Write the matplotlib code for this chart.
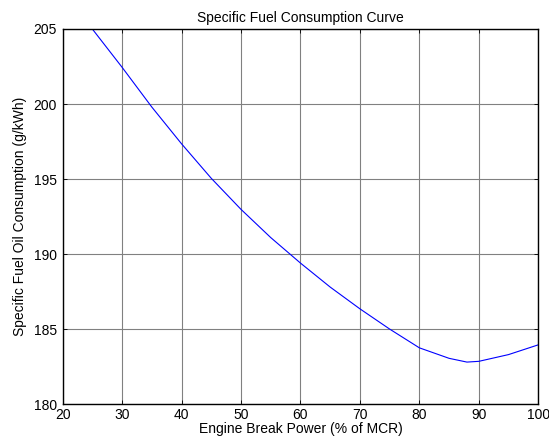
import matplotlib
matplotlib.use('Agg')
import matplotlib.pyplot as plt

# engine load (% of MCR) vs specific fuel oil consumption (g/kWh)
load_pct = [20, 25, 30, 35, 40, 45, 50, 55, 60, 65, 70, 75, 80, 85, 88, 90, 95, 100]
sfoc = [207.7, 205.0, 202.45, 199.8, 197.35, 195.05, 192.98, 191.1, 189.4, 187.8,
        186.35, 185.0, 183.75, 183.05, 182.8, 182.85, 183.3, 183.95]

xticks = list(range(20, 101, 10))
yticks = list(range(180, 206, 5))

plt.rcParams['font.family'] = ['Liberation Sans', 'DejaVu Sans']
plt.rcParams['font.size'] = 10

fig = plt.figure(figsize=(5.49, 4.48), dpi=100)
ax = fig.add_axes([0.114, 0.098, 0.8665, 0.8373])
ax.plot(load_pct, sfoc, color='#0000ff', lw=0.8)
ax.set_xlim(20, 100)
ax.set_ylim(180, 205)
ax.set_xticks(xticks)
ax.set_yticks(yticks)
ax.grid(True, color='#808080', lw=0.8)
ax.tick_params(direction='in', top=True, right=True, length=3, width=0.6)
ax.tick_params(axis='x', pad=3)
ax.tick_params(axis='y', pad=4)
for s in ax.spines.values():
    s.set_linewidth(1.0)
ax.set_title('Specific Fuel Consumption Curve', fontsize=10, pad=5)
ax.set_xlabel('Engine Break Power (% of MCR)', labelpad=0)
ax.set_ylabel('Specific Fuel Oil Consumption (g/kWh)', labelpad=5)

fig.savefig('out.png', dpi=100)
